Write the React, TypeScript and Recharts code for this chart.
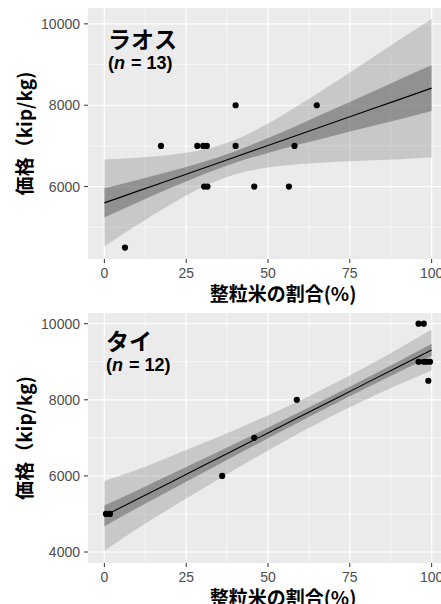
import React from 'react';
import { ComposedChart, Area, Line, Scatter, XAxis, YAxis, CartesianGrid, Label } from 'recharts';

const bandX = [0, 10, 20, 30, 40, 50, 60, 70, 80, 90, 100];

// ラオス
const laosFit = [5600, 5882, 6164, 6446, 6728, 7010, 7292, 7574, 7856, 8138, 8420];
const laosLightLo = [4535, 5054, 5549, 5988, 6302, 6468, 6553, 6605, 6643, 6674, 6720];
const laosLightHi = [6665, 6710, 6779, 6904, 7154, 7552, 8031, 8543, 9069, 9602, 10120];
const laosDarkLo = [5243, 5605, 5958, 6293, 6585, 6828, 7044, 7249, 7450, 7648, 7860];
const laosDarkHi = [5957, 6159, 6370, 6599, 6871, 7192, 7540, 7899, 8262, 8628, 8980];
const laosPtX = [6.3, 17.3, 28.4, 30.2, 31.3, 30.5, 31.5, 40.1, 40.1, 45.8, 56.4, 58.1, 64.9];
const laosPtY = [4500, 7000, 7000, 7000, 7000, 6000, 6000, 8000, 7000, 6000, 6000, 7000, 8000];

// タイ
const thaiFit = [4950, 5386, 5822, 6258, 6694, 7130, 7566, 8002, 8438, 8874, 9310];
const thaiLightLo = [4030, 4612, 5140, 5661, 6173, 6669, 7144, 7592, 8010, 8401, 8773];
const thaiLightHi = [5865, 6160, 6504, 6855, 7215, 7591, 7988, 8412, 8866, 9347, 9847];
const thaiDarkLo = [4675, 5154, 5617, 6079, 6538, 6992, 7439, 7879, 8310, 8732, 9149];
const thaiDarkHi = [5225, 5618, 6027, 6437, 6850, 7268, 7693, 8125, 8566, 9016, 9471];
const thaiPtX = [0.5, 1.7, 36.0, 45.8, 58.8, 96.0, 97.6, 96.0, 97.6, 98.5, 99.5, 99.0];
const thaiPtY = [5000, 5000, 6000, 7000, 8000, 10000, 10000, 9000, 9000, 9000, 9000, 8500];

const xTicks = [0, 25, 50, 75, 100];
const xMinor = [12.5, 37.5, 62.5, 87.5];
const laosYTicks = [6000, 8000, 10000];
const laosYMinor = [5000, 7000, 9000];
const thaiYTicks = [4000, 6000, 8000, 10000];
const thaiYMinor = [5000, 7000, 9000];

const xTitle = '整粒米の割合(%)';
const yTitle = '価格（kip/kg)';

const jp = '"Noto Sans CJK JP", "Liberation Sans", sans-serif';
const tickStyle = { fontSize: 14, fill: '#4D4D4D', fontFamily: '"Liberation Sans", Arial, sans-serif' };

const dot = (p: any) => <circle cx={p.cx} cy={p.cy} r={3.1} fill="#000" />;

function Panel({ fit, lightLo, lightHi, darkLo, darkHi, ptX, ptY, yDomain, yTicks, yMinor, top, height, plotH }: any) {
  const rows = bandX.map((x, i) => ({
    x,
    fit: fit[i],
    light: [lightLo[i], lightHi[i]],
    dark: [darkLo[i], darkHi[i]],
  }));
  const pts = ptX.map((x: number, i: number) => ({ x, y: ptY[i] }));
  return (
    <ComposedChart width={460} height={height} data={rows} margin={{ top, right: 12, bottom: 0, left: 0 }}>
      <CartesianGrid fill="#EBEBEB" stroke="#fff" strokeWidth={0.6}
        verticalValues={xMinor} horizontalValues={yMinor} />
      <CartesianGrid stroke="#fff" strokeWidth={1.2}
        verticalValues={xTicks} horizontalValues={yTicks} />
      <XAxis dataKey="x" type="number" domain={[-5, 105]} ticks={xTicks} allowDataOverflow
        axisLine={false} tickSize={4} tickMargin={5} tickLine={{ stroke: '#333' }}
        tick={tickStyle} height={height - top - plotH}>
        <Label value={xTitle} position="insideTop" offset={29} dx={15}
          style={{ fontSize: 19, fontWeight: 'bold', fill: '#000', fontFamily: jp }} />
      </XAxis>
      <YAxis type="number" domain={yDomain} ticks={yTicks} allowDataOverflow width={88}
        axisLine={false} tickSize={4} tickMargin={4} tickLine={{ stroke: '#333' }} tick={tickStyle}>
        <Label value={yTitle} angle={-90} position="insideLeft" offset={25}
          style={{ textAnchor: 'middle', fontSize: 19, fontWeight: 'bold', fill: '#000', fontFamily: jp }} />
      </YAxis>
      <Area dataKey="light" type="monotone" stroke="none" fill="#777" fillOpacity={0.3} isAnimationActive={false} />
      <Area dataKey="dark" type="monotone" stroke="none" fill="#555" fillOpacity={0.48} isAnimationActive={false} />
      <Line dataKey="fit" type="linear" stroke="#000" strokeWidth={1.1} dot={false} isAnimationActive={false} />
      <Scatter data={pts} dataKey="y" shape={dot} isAnimationActive={false} />
    </ComposedChart>
  );
}

const tag = (left: number, top: number, name: string, n: number) => (
  <div style={{ position: 'absolute', left, top, color: '#000' }}>
    <div style={{ fontFamily: jp, fontWeight: 'bold', fontSize: 23, lineHeight: '26px' }}>{name}</div>
    <div style={{ fontFamily: '"Liberation Sans", Arial, sans-serif', fontWeight: 'bold', fontSize: 18, lineHeight: '20px', marginTop: 2 }}>
      (<i style={{ paddingRight: 1 }}>n</i> = {n})
    </div>
  </div>
);

export default function App() {
  return (
    <div style={{ position: 'absolute', left: 0, top: 0, width: 441, height: 604, overflow: 'hidden', background: '#fff' }}>
      <div style={{ position: 'absolute', left: 0, top: 0 }}>
        <Panel fit={laosFit} lightLo={laosLightLo} lightHi={laosLightHi} darkLo={laosDarkLo} darkHi={laosDarkHi}
          ptX={laosPtX} ptY={laosPtY} yDomain={[4220, 10390]} yTicks={laosYTicks} yMinor={laosYMinor}
          top={8} height={312} plotH={251} />
      </div>
      <div style={{ position: 'absolute', left: 0, top: 302 }}>
        <Panel fit={thaiFit} lightLo={thaiLightLo} lightHi={thaiLightHi} darkLo={thaiDarkLo} darkHi={thaiDarkHi}
          ptX={thaiPtX} ptY={thaiPtY} yDomain={[3711, 10281]} yTicks={thaiYTicks} yMinor={thaiYMinor}
          top={11} height={302} plotH={250} />
      </div>
      {tag(108, 25, 'ラオス', 13)}
      {tag(106, 327, 'タイ', 12)}
    </div>
  );
}
